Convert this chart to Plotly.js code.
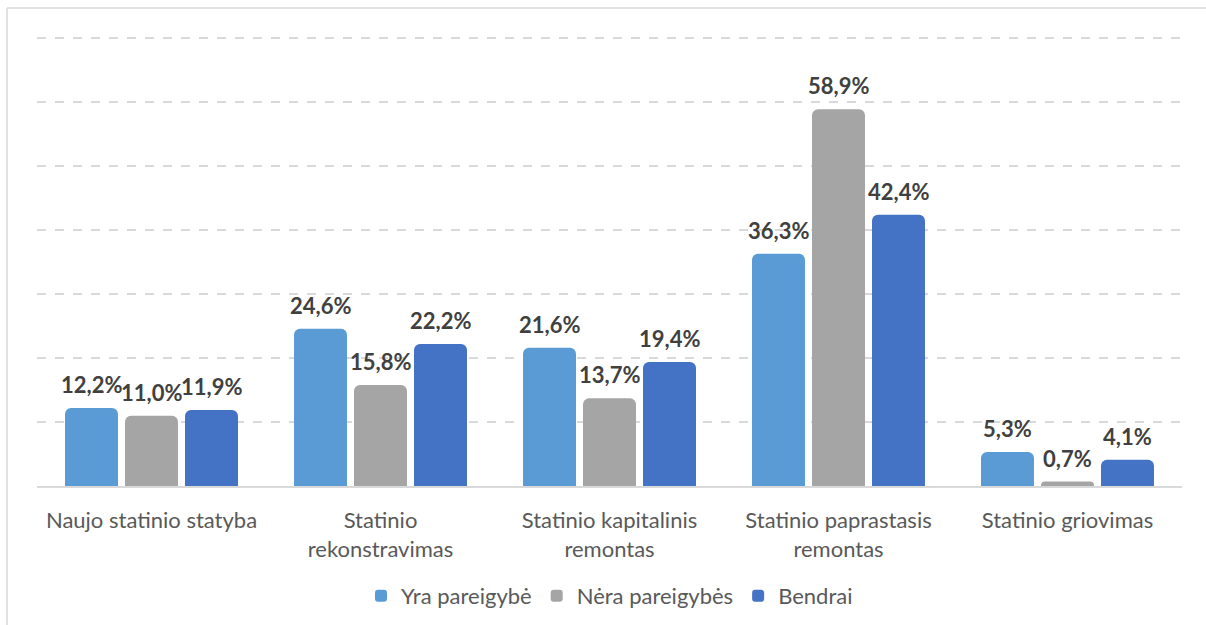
<!DOCTYPE html>
<html>
<head>
<meta charset="utf-8">
<script src="https://cdn.plot.ly/plotly-3.0.1.min.js"></script>
<style>
  html, body { margin: 0; padding: 0; background: #fff; }
  #chart { width: 1206px; height: 625px; }
</style>
</head>
<body>
<div id="chart"></div>
<script>
const divPlot = document.getElementById('chart');

// kategorijos
const categories = [
  'Naujo statinio statyba',
  'Statinio<br>rekonstravimas',
  'Statinio kapitalinis<br>remontas',
  'Statinio paprastasis<br>remontas',
  'Statinio griovimas',
];

// reikšmės, %
const yraPareigybe = [12.2, 24.6, 21.6, 36.3, 5.3];
const neraPareigybes = [11.0, 15.8, 13.7, 58.9, 0.7];
const bendrai = [11.9, 22.2, 19.4, 42.4, 4.1];

const seriesNames = ['Yra pareigybė', 'Nėra pareigybės', 'Bendrai'];
const seriesColors = ['#5B9BD5', '#A5A5A5', '#4472C4'];
const seriesValues = [yraPareigybe, neraPareigybes, bendrai];

const fmt = (v) => v.toFixed(1).replace('.', ',') + '%';

const makeTrace = (values, i) => ({
  x: categories,
  y: values,
  name: seriesNames[i],
  type: 'bar',
  marker: { color: seriesColors[i], cornerradius: 6 },
  hoverinfo: 'name+y',
});

const data = seriesValues.map(makeTrace);

// reikšmių etiketės virš stulpelių
const annotations = [];
seriesValues.forEach((values, i) => {
  values.forEach((v, j) => {
    annotations.push({
      x: categories[j],
      y: v,
      xref: 'x',
      yref: 'y',
      text: '<b>' + fmt(v) + '</b>',
      showarrow: false,
      xanchor: 'center',
      yanchor: 'bottom',
      xshift: (i - 1) * 60,
      yshift: 8,
      font: { family: 'Lato, sans-serif', size: 22, color: '#404040' },
    });
  });
});

const layout = {
  width: 1206,
  height: 625,
  margin: { l: 37, r: 24, t: 37, b: 139, autoexpand: false },
  paper_bgcolor: '#fff',
  plot_bgcolor: '#fff',
  font: { family: 'Lato, sans-serif', color: '#595959' },
  barmode: 'group',
  bargap: 0.214,
  bargroupgap: 0.117,
  showlegend: true,

  xaxis: {
    showline: true,
    linecolor: '#d9d9d9',
    linewidth: 1.5,
    ticks: 'outside',
    ticklen: 14,
    tickcolor: 'rgba(0,0,0,0)',
    tickfont: { size: 22, color: '#595959' },
    fixedrange: true,
  },

  yaxis: {
    range: [0, 70.2],
    dtick: 10,
    showticklabels: false,
    showgrid: true,
    gridcolor: '#d9d9d9',
    gridwidth: 1.5,
    griddash: 'dash',
    zeroline: false,
    fixedrange: true,
  },

  legend: {
    orientation: 'h',
    x: 0.5,
    xanchor: 'center',
    y: -0.245,
    yanchor: 'middle',
    font: { size: 22, color: '#595959' },
    itemwidth: 30,
  },

  annotations: annotations,

  // rėmelis aplink diagramą
  shapes: [
    {
      type: 'line', xref: 'paper', yref: 'paper',
      x0: -30 / 1145, x1: 1.1, y0: 478 / 449, y1: 478 / 449,
      line: { color: '#d9d9d9', width: 1.5 },
    },
    {
      type: 'line', xref: 'paper', yref: 'paper',
      x0: -30 / 1145, x1: -30 / 1145, y0: 478 / 449, y1: -0.4,
      line: { color: '#d9d9d9', width: 1.5 },
    },
  ],
};

const config = { displayModeBar: false, responsive: false };

Plotly.newPlot(divPlot, data, layout, config);
</script>
</body>
</html>
